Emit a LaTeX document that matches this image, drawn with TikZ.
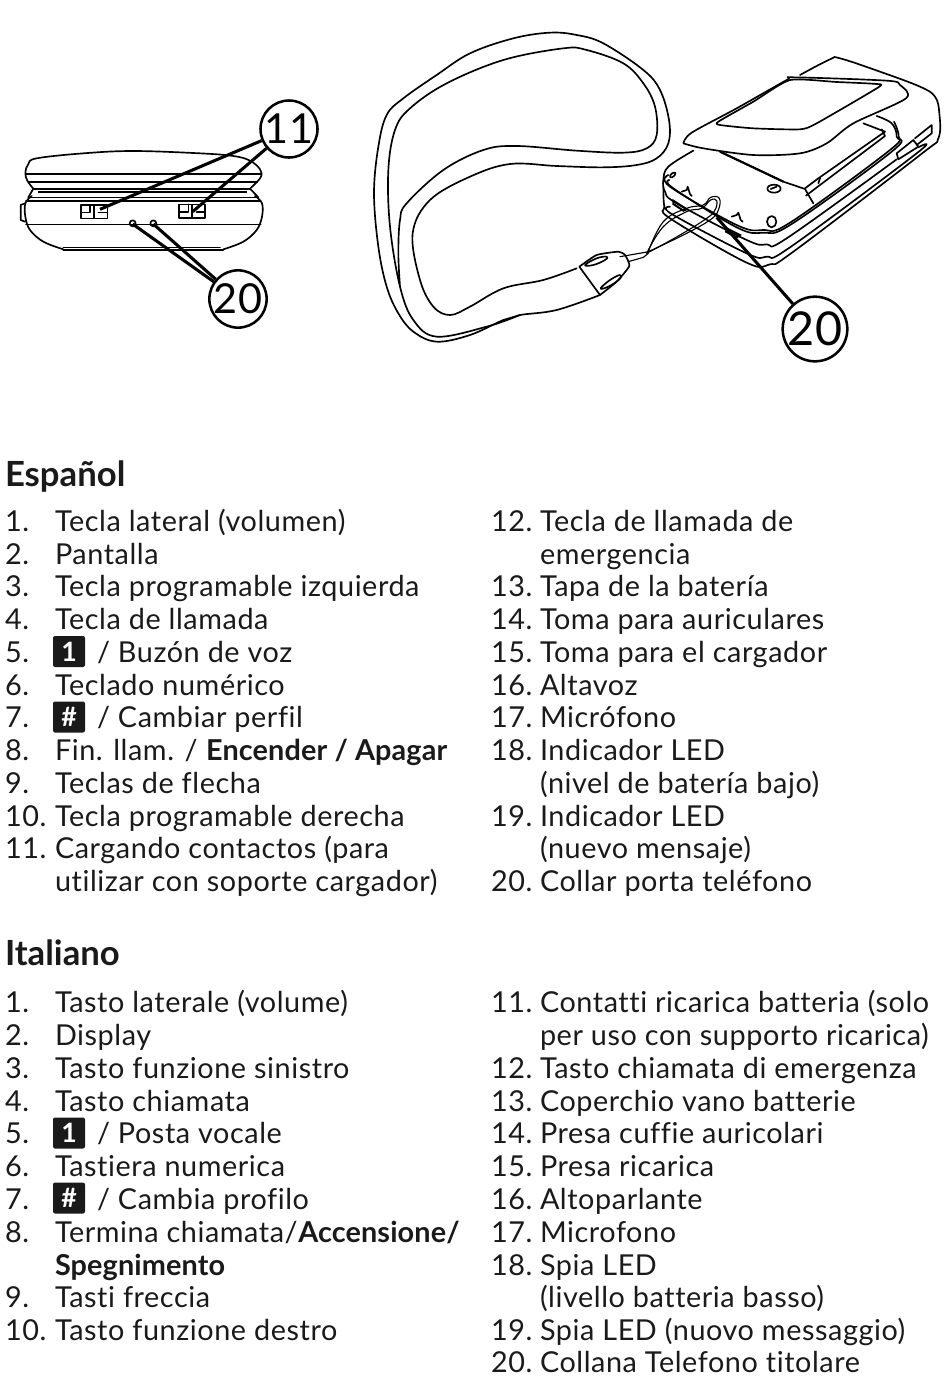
\documentclass[tikz,border=0pt]{standalone}
\usepackage{fontspec}
\setmainfont{Lato}[LetterSpace=2,Ligatures=NoCommon,BoldFeatures={LetterSpace=0.5}]
\newfontfamily\headfont{Lato}[BoldFont={Lato Bold}]
\definecolor{ink}{HTML}{1A1A1A}
\tikzset{
 txt/.style={anchor=base west,inner sep=0pt,outer sep=0pt,text=ink,font=\fontsize{21.6pt}{24pt}\selectfont},
 head/.style={anchor=base west,inner sep=0pt,outer sep=0pt,text=ink,font=\headfont\bfseries\fontsize{26pt}{28pt}\selectfont},
 callout/.style={circle,draw=black,line width=1.9pt,fill=white,inner sep=0pt,minimum size=39pt,font=\fontsize{31pt}{34pt}\selectfont,text=black},
 calloutb/.style={callout,minimum size=46pt,font=\fontsize{35pt}{38pt}\selectfont},
 lead/.style={line width=2.3pt,draw=black},
 ln/.style={line width=1.25pt,draw=black,line join=round,line cap=round},
 thinl/.style={line width=.85pt,draw=black,line join=round,line cap=round},
 keybox/.style={fill=ink,rounded corners=1.5pt},
 keycap/.style={anchor=center,text=white,inner sep=0pt,font=\bfseries\fontsize{20pt}{21pt}\selectfont},
}
\newcommand{\tl}[4]{\node[txt] (#1) at (#2,#3-1) {#4};}
\newcommand{\keyc}[3]{\fill[keybox] (53,#2-15.5) rectangle (85,#2+15.5); \node[keycap] (#1) at (69,#2) {#3};}
\newcommand{\mypts}[2][]{\draw[ln,#1] plot[smooth,tension=.6] coordinates {#2};}
\begin{document}
\begin{tikzpicture}[x=.75pt,y=-.75pt]
\useasboundingbox (0,0) rectangle (950,1392);
\fill[white] (0,0) rectangle (950,1392);
% left device
\begin{scope}[shift={(0,90)},x=.25pt,y=-.25pt]
\mypts{(100,296)(82,272)(76,248)(85,222)(110,205)(250,190)(400,183)(600,190)(700,198)(750,212)(780,238)(782,262)(750,296)}
\draw[ln] (78,252)--(782,252);
\draw[line width=1.5pt] (85,277)--(775,277);
\draw[ln] (100,296)--(750,296);
\draw[line width=1.4pt] (115,305)--(740,305);
\draw[ln] (85,322)--(775,322);
\draw[ln] (100,296)--(85,322);
\draw[ln] (750,296)--(775,322);
\mypts{(95,318)(76,340)(76,380)(90,420)(130,455)(190,478)}
\mypts{(765,318)(786,340)(786,380)(770,420)(730,455)(670,478)}
\draw[ln] (190,472)--(660,472);
\draw[ln] (190,480)--(670,480);
\draw[ln] (78,403)--(782,403);
\draw[ln] (78,333)--(782,333);
\draw[ln] (75,340)--(62,345)--(62,390)--(75,395);
\draw[ln] (243,345) rectangle (322,385);
\draw[ln] (243,367)--(270,367)--(270,345);
\draw[ln] (322,367)--(295,367);
\draw[line width=1.5pt] (283,345)--(283,385);
\draw[ln] (537,343) rectangle (615,383);
\draw[ln] (537,365)--(565,365)--(565,343);
\draw[ln] (615,365)--(590,365);
\draw[line width=1.5pt] (577,343)--(577,383);
\draw[ln] (398,400) circle (9);
\draw[ln] (460,400) circle (9);
\coordinate (c11a) at (300,358);
\coordinate (c11b) at (578,365);
\coordinate (c20a) at (398,402);
\coordinate (c20b) at (460,402);
\end{scope}
\node[callout] (n11) at (289,129) {11};
\node[callout] (n20a) at (238,299) {20};
\draw[lead] (c11a) -- (n11);
\draw[lead] (c11b) -- (n11);
\draw[lead] (c20a) -- (n20a);
\draw[lead] (c20b) -- (n20a);
% strap
\begin{scope}[shift={(370,20)},x=.25pt,y=-.25pt]
\mypts{(620,745)(520,780)(400,805)(300,860)(240,885)(190,860)(150,780)(128,640)(180,540)(300,470)(420,432)(560,438)(700,442)(800,435)(860,415)(895,370)(897,300)(870,210)(820,150)(700,70)(620,45)(540,38)(430,55)(300,100)(200,165)(100,235)(50,285)(25,380)(12,520)(25,680)(50,800)(85,880)(130,935)(200,965)(300,945)(400,900)(450,885)(560,870)(690,825)}
\mypts{(90,800)(85,700)(90,600)(110,550)(220,450)(340,390)(440,378)(620,392)(760,398)(830,385)(860,345)(855,260)(820,190)(760,130)(650,90)(580,85)(400,120)(230,190)(120,265)(75,330)(55,450)(60,620)(90,800)(130,900)(200,950)(350,920)(450,885)}
\draw[ln,fill=white] plot[smooth,tension=.3] coordinates {(628,740)(680,705)(745,695)(765,705)(778,738)(740,785)(690,825)} -- cycle;
\draw[ln] plot[smooth cycle,tension=.7] coordinates {(645,735)(680,715)(710,710)(705,720)(670,735)};
\draw[ln] plot[smooth cycle,tension=.7] coordinates {(692,805)(720,780)(750,765)(748,778)(715,800)};
\end{scope}
% phone
\begin{scope}[shift={(620,40)},x=.25pt,y=-.25pt]
\mypts{(540,105)(630,58)(660,55)(780,95)(900,140)(945,170)(958,220)(955,295)(900,345)(520,635)(450,673)(380,668)(150,535)(133,500)(130,440)}
\mypts{(220,332)(145,380)(130,420)(135,455)(170,490)(380,600)(440,613)(500,595)(830,358)}
\mypts{(145,405)(150,440)(350,555)(430,570)(510,548)(810,330)(830,290)(815,250)(770,228)}
\mypts{(148,420)(160,445)(350,562)(430,578)(515,552)(815,335)(836,290)(822,245)}
\draw[ln] (300,335)--(490,425)--(555,447)--(580,490);
\draw[line width=1.6pt] (300,335)--(490,425);
\draw[ln] (555,445)--(595,415)--(795,275)--(730,250);
\draw[ln] (558,467)--(600,435)--(795,288)--(785,268);
\draw[ln] (595,430)--(600,415);
\draw[ln] (462,446) ellipse (20 and 12);
\draw[ln] (452,447) -- (470,440);
\draw[ln] (455,545) ellipse (14 and 17);
\draw[ln,rotate around={40:(158,405)}] (158,405) ellipse (10 and 5);
\draw[ln] (185,455)--(200,450)--(203,440)--(210,462)--(215,468);
\draw[ln] (335,530)--(350,525)--(355,518)--(362,540)--(368,545);
\draw[line width=1.5pt] (160,482)--(200,508)--(190,512)--(160,492)--cycle;
\draw[line width=1.5pt] (320,565)--(360,585)--(350,592)--(318,575)--cycle;
\mypts{(150,500)(155,522)(380,640)(440,650)(510,622)(890,340)(895,322)}
\draw[ln] (830,340)--(880,300)--(895,320)--(835,358)--cycle;
\draw[ln] (885,295)--(935,255)--(935,280)--(890,315);
\draw[ln,fill=white] plot[smooth,tension=.5] coordinates {(190,310)(215,278)(350,205)(500,120)(520,112)(800,122)(840,135)(858,175)(700,250)(620,310)(540,340)(400,345)(250,325)(190,310)};
\draw[ln] plot[smooth cycle,tension=.35] coordinates {(295,245)(400,185)(510,120)(650,126)(770,132)(775,142)(590,250)(540,268)(400,265)(300,255)};
\draw[thinl] plot[smooth,tension=.7] coordinates {(85,635)(130,545)(200,505)(250,495)(272,472)(298,475)(295,510)(270,540)(190,585)(85,635)};
\draw[thinl] plot[smooth,tension=.7] coordinates {(80,640)(130,560)(200,515)(245,505)(272,480)(290,482)(285,510)(260,535)(180,585)(80,640)};
\draw[thinl] (0,650)--(70,638)--(85,635);
\draw[thinl] (25,665)--(70,652)--(85,640);
\coordinate (c20r) at (290,532);
\end{scope}
\node[calloutb] (n20r) at (815,329) {20};
\draw[lead] (c20r) -- (n20r);
% Spanish
\node[head] (hes) at (5,486) {Español};
\tl{a1}{5}{532}{1.}\tl{a1t}{55}{532}{Tecla lateral (volumen)}
\tl{a2}{5}{565}{2.}\tl{a2t}{55}{565}{Pantalla}
\tl{a3}{5}{597.5}{3.}\tl{a3t}{55}{597.5}{Tecla programable izquierda}
\tl{a4}{5}{630}{4.}\tl{a4t}{55}{630}{Tecla de llamada}
\tl{a5}{5}{663}{5.}\keyc{ak1}{651.5}{1}\tl{a5t}{97}{663}{/ Buzón de voz}
\tl{a6}{5}{696}{6.}\tl{a6t}{55}{696}{Teclado numérico}
\tl{a7}{5}{728}{7.}\keyc{ak2}{717}{\#}\tl{a7t}{97}{728}{/ Cambiar perfil}
\tl{a8}{5}{761}{8.}\tl{a8t}{55}{761}{Fin. llam. / \textbf{Encender / Apagar}}
\tl{a9}{5}{794}{9.}\tl{a9t}{55}{794}{Teclas de flecha}
\tl{a10}{5}{827}{10.}\tl{a10t}{55}{827}{Tecla programable derecha}
\tl{a11}{5}{859}{11.}\tl{a11t}{55}{859}{Cargando contactos (para}
\tl{a11u}{55}{892}{utilizar con soporte cargador)}
\tl{b12}{491}{532}{12.}\tl{b12t}{540}{532}{Tecla de llamada de}
\tl{b12u}{540}{565}{emergencia}
\tl{b13}{491}{597.5}{13.}\tl{b13t}{540}{597.5}{Tapa de la batería}
\tl{b14}{491}{630}{14.}\tl{b14t}{540}{630}{Toma para auriculares}
\tl{b15}{491}{663}{15.}\tl{b15t}{540}{663}{Toma para el cargador}
\tl{b16}{491}{696}{16.}\tl{b16t}{540}{696}{Altavoz}
\tl{b17}{491}{728}{17.}\tl{b17t}{540}{728}{Micrófono}
\tl{b18}{491}{761}{18.}\tl{b18t}{540}{761}{Indicador LED}
\tl{b18u}{540}{794}{(nivel de batería bajo)}
\tl{b19}{491}{827}{19.}\tl{b19t}{540}{827}{Indicador LED}
\tl{b19u}{540}{859}{(nuevo mensaje)}
\tl{b20}{491}{892}{20.}\tl{b20t}{540}{892}{Collar porta teléfono}
% Italian
\node[head] (hit) at (5,965) {Italiano};
\tl{c1}{5}{1013}{1.}\tl{c1t}{55}{1013}{Tasto laterale (volume)}
\tl{c2}{5}{1046}{2.}\tl{c2t}{55}{1046}{Display}
\tl{c3}{5}{1079}{3.}\tl{c3t}{55}{1079}{Tasto funzione sinistro}
\tl{c4}{5}{1112}{4.}\tl{c4t}{55}{1112}{Tasto chiamata}
\tl{c5}{5}{1144}{5.}\keyc{ck1}{1133}{1}\tl{c5t}{97}{1144}{/ Posta vocale}
\tl{c6}{5}{1177}{6.}\tl{c6t}{55}{1177}{Tastiera numerica}
\tl{c7}{5}{1210}{7.}\keyc{ck2}{1198}{\#}\tl{c7t}{97}{1210}{/ Cambia profilo}
\tl{c8}{5}{1243}{8.}\tl{c8t}{55}{1243}{Termina chiamata/\textbf{Accensione/}}
\tl{c8u}{55}{1276}{\textbf{Spegnimento}}
\tl{c9}{5}{1308}{9.}\tl{c9t}{55}{1308}{Tasti freccia}
\tl{c10}{5}{1341}{10.}\tl{c10t}{55}{1341}{Tasto funzione destro}
\tl{d11}{491}{1013}{11.}\tl{d11t}{540}{1013}{Contatti ricarica batteria (solo}
\tl{d11u}{540}{1046}{per uso con supporto ricarica)}
\tl{d12}{491}{1079}{12.}\tl{d12t}{540}{1079}{Tasto chiamata di emergenza}
\tl{d13}{491}{1112}{13.}\tl{d13t}{540}{1112}{Coperchio vano batterie}
\tl{d14}{491}{1144}{14.}\tl{d14t}{540}{1144}{Presa cuffie auricolari}
\tl{d15}{491}{1177}{15.}\tl{d15t}{540}{1177}{Presa ricarica}
\tl{d16}{491}{1210}{16.}\tl{d16t}{540}{1210}{Altoparlante}
\tl{d17}{491}{1243}{17.}\tl{d17t}{540}{1243}{Microfono}
\tl{d18}{491}{1276}{18.}\tl{d18t}{540}{1276}{Spia LED}
\tl{d18u}{540}{1308}{(livello batteria basso)}
\tl{d19}{491}{1341}{19.}\tl{d19t}{540}{1341}{Spia LED (nuovo messaggio)}
\tl{d20}{491}{1373}{20.}\tl{d20t}{540}{1373}{Collana Telefono titolare}
\end{tikzpicture}
\end{document}
